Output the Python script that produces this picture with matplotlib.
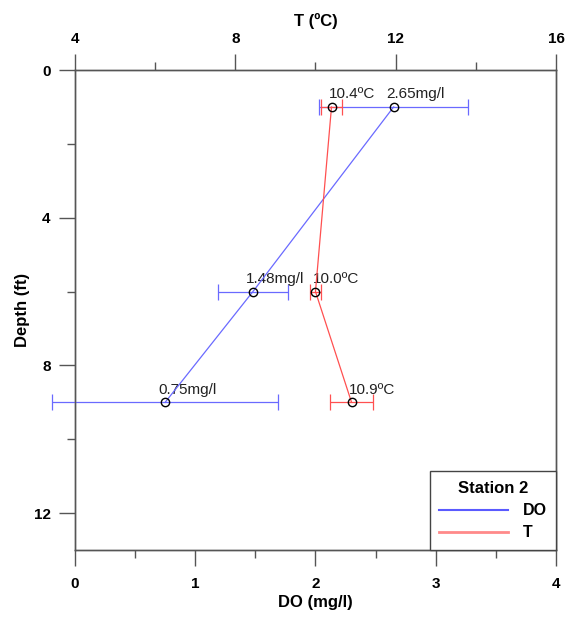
import matplotlib
matplotlib.use("Agg")
import matplotlib.pyplot as plt
from matplotlib.lines import Line2D
from matplotlib.ticker import MultipleLocator

plt.rcParams['font.family'] = ['Liberation Sans', 'DejaVu Sans']

depth = [1, 6, 9]
do_vals = [2.65, 1.48, 0.75]
do_err = [0.62, 0.29, 0.94]
t_vals = [10.4, 10.0, 10.9]
t_err = [0.25, 0.13, 0.53]
do_labels = ["2.65mg/l", "1.48mg/l", "0.75mg/l"]
t_labels = ["10.4ºC", "10.0ºC", "10.9ºC"]

blue = '#6a6aff'
red = '#ff5050'
spine_c = '#555555'
text_c = '#222222'

fig = plt.figure(figsize=(5.65, 6.17), dpi=100)
ax = fig.add_axes([0.1327, 0.1086, 0.8513, 0.7779])
ax2 = ax.twiny()


def noclip(container):
    for art in container.get_children():
        art.set_clip_on(False)


# DO
c1 = ax.errorbar(do_vals, depth, xerr=do_err, color=blue, lw=0.9, elinewidth=0.9,
                 capsize=5.5, capthick=0.9, zorder=3)
noclip(c1)
ax.plot(do_vals, depth, 'o', mfc='none', mec='black', ms=6, mew=1.0, zorder=4)
for x, y, s in zip(do_vals, depth, do_labels):
    ax.annotate(s, (x, y), xytext=(-5, 4), textcoords='offset points',
                ha='left', va='bottom', fontsize=11, color=text_c)

# T
c2 = ax2.errorbar(t_vals, depth, xerr=t_err, color=red, lw=0.9, elinewidth=0.9,
                  capsize=5.5, capthick=0.9, zorder=3)
noclip(c2)
ax2.plot(t_vals, depth, 'o', mfc='none', mec='black', ms=6, mew=1.0, zorder=4)
for x, y, s in zip(t_vals, depth, t_labels):
    ax2.annotate(s, (x, y), xytext=(-2, 4), textcoords='offset points',
                 ha='left', va='bottom', fontsize=11, color=text_c)

ax.set_xlim(0, 4)
ax.set_ylim(13, 0)
ax2.set_xlim(4, 16)

ax.xaxis.set_major_locator(MultipleLocator(1))
ax.xaxis.set_minor_locator(MultipleLocator(0.5))
ax.yaxis.set_major_locator(MultipleLocator(4))
ax.yaxis.set_minor_locator(MultipleLocator(2))
ax2.xaxis.set_major_locator(MultipleLocator(4))
ax2.xaxis.set_minor_locator(MultipleLocator(2))

for a in (ax, ax2):
    for sp in a.spines.values():
        sp.set_color(spine_c)
        sp.set_linewidth(1.0)
    a.tick_params(which='major', length=11.5, width=1.0, color=spine_c,
                  labelsize=11, pad=6, direction='out')
    a.tick_params(which='minor', length=6, width=1.0, color=spine_c,
                  direction='out')
ax.tick_params(axis='x', which='major', pad=8)
ax.tick_params(axis='y', right=False)
ax.tick_params(axis='y', which='minor', right=False)

for lab in ax.get_xticklabels() + ax.get_yticklabels() + ax2.get_xticklabels():
    lab.set_fontweight('bold')

ax.set_xlabel("DO (mg/l)", fontsize=12, fontweight='bold', labelpad=3)
ax.set_ylabel("Depth (ft)", fontsize=12, fontweight='bold', labelpad=3)
ax2.set_xlabel("T (ºC)", fontsize=12, fontweight='bold', labelpad=4)

handles = [Line2D([], [], color='#5a5aff', lw=1.5),
           Line2D([], [], color='#ff8a8a', lw=2.0)]
leg = ax2.legend(handles, ["DO", "T"], title="Station 2", loc='lower right',
                 borderaxespad=0, fancybox=False, framealpha=1,
                 edgecolor='#444444', prop={'weight': 'bold', 'size': 11.5},
                 handlelength=4.3, borderpad=0.6, labelspacing=0.45,
                 handletextpad=0.9)
leg.get_title().set_fontweight('bold')
leg.get_title().set_fontsize(12)
leg.get_frame().set_linewidth(1.0)

fig.savefig("out.png", dpi=100)
